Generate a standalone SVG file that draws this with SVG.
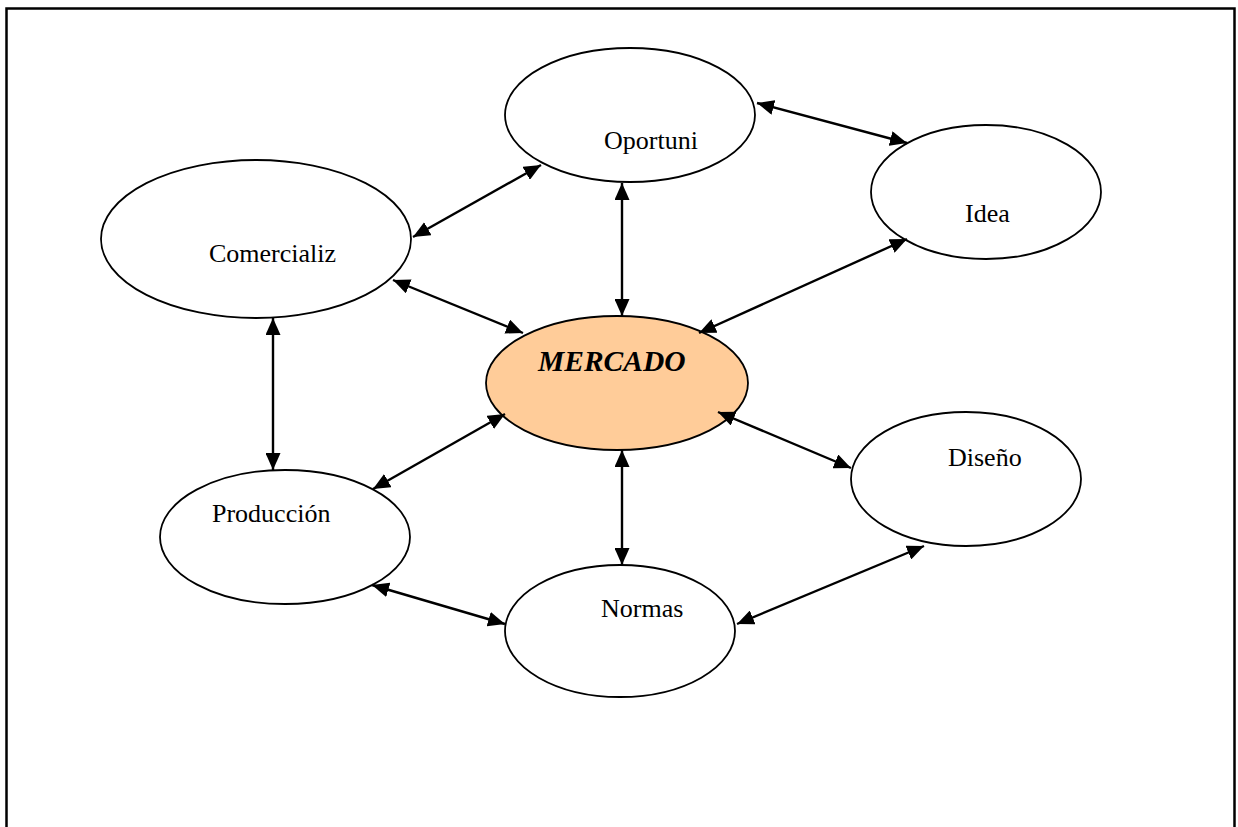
<svg xmlns="http://www.w3.org/2000/svg" width="1238" height="827" viewBox="0 0 1238 827">
<defs>
<marker id="ah" viewBox="0 0 17 15" refX="17" refY="7.5" markerWidth="17" markerHeight="15" markerUnits="userSpaceOnUse" orient="auto-start-reverse">
<path d="M0,0 L17,7.5 L0,15 z" fill="#000"/>
</marker>
<style>
.n{fill:#fff;stroke:#000;stroke-width:1.8}
.t{font-family:"Liberation Serif","Times New Roman",serif;font-size:26px;fill:#000}
.m{font-family:"Liberation Serif","Times New Roman",serif;font-size:29.5px;font-weight:bold;font-style:italic;fill:#000}
.c line{stroke:#000;stroke-width:2.4;marker-start:url(#ah);marker-end:url(#ah)}
</style>
</defs>
<rect width="1238" height="827" fill="#fff"/>
<path d="M6.5,827 L6.5,8.5 L1234.5,8.5 L1234.5,827" fill="none" stroke="#000" stroke-width="2.5"/>
<g id="oportuni"><ellipse class="n" cx="630" cy="115" rx="125" ry="67"/><text class="t" x="604" y="149">Oportuni</text></g>
<g id="idea"><ellipse class="n" cx="986" cy="192" rx="115" ry="67"/><text class="t" x="965" y="222">Idea</text></g>
<g id="comercializ"><ellipse class="n" cx="256" cy="239" rx="155" ry="79"/><text class="t" x="209" y="262">Comercializ</text></g>
<g id="mercado"><ellipse cx="617" cy="383" rx="131" ry="67" fill="#FFCC99" stroke="#000" stroke-width="1.8"/><text class="m" x="538" y="371">MERCADO</text></g>
<g id="diseno"><ellipse class="n" cx="966" cy="479" rx="115" ry="67"/><text class="t" x="948" y="466">Diseño</text></g>
<g id="produccion"><ellipse class="n" cx="285" cy="537" rx="125" ry="67"/><text class="t" x="212" y="522">Producción</text></g>
<g id="normas"><ellipse class="n" cx="620" cy="631" rx="115" ry="66"/><text class="t" x="601" y="617">Normas</text></g>
<g id="connectors" class="c">
<line x1="413" y1="237" x2="541" y2="165"/>
<line x1="757" y1="103" x2="907" y2="143"/>
<line x1="622" y1="183" x2="622" y2="316"/>
<line x1="393" y1="280" x2="523" y2="333"/>
<line x1="907" y1="239" x2="699" y2="333"/>
<line x1="273" y1="318" x2="273" y2="470"/>
<line x1="505" y1="414" x2="373" y2="489"/>
<line x1="718" y1="412" x2="851" y2="468"/>
<line x1="622" y1="450" x2="622" y2="565"/>
<line x1="372" y1="585" x2="505" y2="624"/>
<line x1="924" y1="546" x2="737" y2="624"/>
</g>
</svg>
